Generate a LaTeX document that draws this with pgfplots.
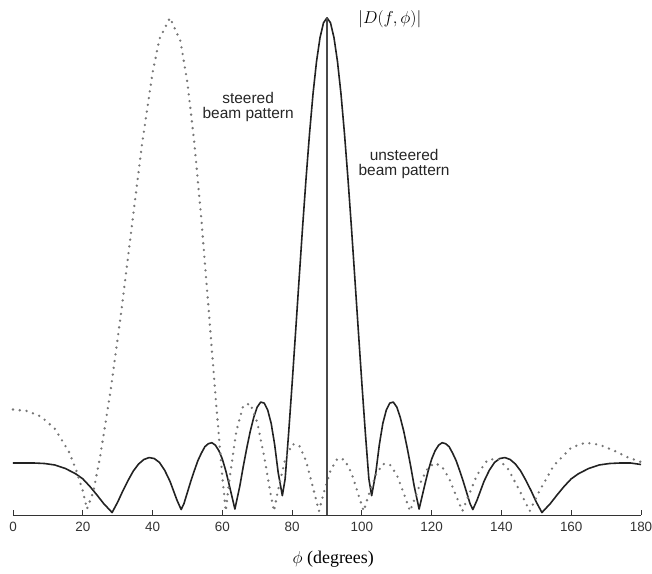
\documentclass[border=0pt]{standalone}
\usepackage{fontspec}
\setmainfont{Liberation Serif}
\newfontfamily\arial{Liberation Sans}
\usepackage{pgfplots}
\pgfplotsset{compat=1.18}

\definecolor{solidc}{HTML}{222222}
\definecolor{dotc}{HTML}{767676}
\definecolor{vlinec}{HTML}{4A4A4A}

\begin{document}
\begin{tikzpicture}
\begin{axis}[
    scale only axis,
    width=628bp, height=515bp,
    xmin=0, xmax=180, ymin=-0.004, ymax=1.036,
    axis x line*=bottom,
    axis y line=none,
    clip=false,
    xtick={0,20,...,180},
    ytick=\empty,
    tick align=inside,
    major tick length=5bp,
    every tick/.style={draw=black!80, line width=0.9bp},
    x axis line style={draw=black!80, line width=1bp},
    tick label style={font=\fontsize{13.5}{14}\selectfont\arial, text=black!80},
    xticklabel style={yshift=-4bp},
    /pgf/number format/assume math mode=true,
    xlabel={\fontsize{18}{18}\selectfont $\phi$ (degrees)},
    every axis x label/.style={at={(rel axis cs:0.51,0)}, anchor=center, yshift=-44bp},
]
% unsteered beam pattern
\addplot[solidc, line width=1.6bp, line join=round] coordinates {
(0,0.101)(3,0.101)(6,0.101)(9,0.100)(12,0.097)(15,0.090)(18,0.079)(20,0.069)
(22,0.054)(24,0.037)(26,0.019)(28.4,0.001)(30,0.022)(31.5,0.045)(33,0.066)(34.5,0.085)
(36,0.099)(37.5,0.108)(39,0.112)(40.5,0.110)(42,0.102)(43.5,0.086)(45,0.064)(47,0.026)
(48.2,0.007)(49,0.019)(50,0.042)(51,0.065)(52,0.086)(53,0.106)(54,0.121)(55,0.134)
(56,0.140)(57,0.142)(58,0.137)(59,0.126)(60,0.109)(61,0.085)(62,0.056)(63.6,0.008)
(65,0.054)(66,0.094)(67,0.131)(68,0.165)(69,0.193)(70,0.214)(71,0.224)(72,0.222)
(73,0.208)(74,0.181)(75,0.138)(76,0.082)(77.2,0.035)(78,0.069)(79,0.161)(80,0.261)
(81,0.366)(82,0.472)(83,0.577)(84,0.676)(85,0.767)(86,0.847)(87,0.912)(88,0.960)
(89,0.990)(90,1.000)
(91,0.990)(92,0.960)(93,0.912)(94,0.847)(95,0.767)(96,0.676)(97,0.577)(98,0.472)
(99,0.366)(100,0.261)(101,0.161)(102,0.069)(102.8,0.035)(104,0.082)(105,0.138)(106,0.181)
(107,0.208)(108,0.222)(109,0.224)(110,0.214)(111,0.193)(112,0.165)(113,0.131)(114,0.094)
(115,0.054)(116.4,0.008)(118,0.056)(119,0.085)(120,0.109)(121,0.126)(122,0.137)(123,0.142)
(124,0.140)(125,0.134)(126,0.121)(127,0.106)(128,0.086)(129,0.065)(130,0.042)(131,0.019)
(131.8,0.007)(133,0.026)(135,0.064)(136.5,0.086)(138,0.102)(139.5,0.110)(141,0.112)(142.5,0.108)
(144,0.099)(145.5,0.085)(147,0.066)(148.5,0.045)(150,0.022)(151.6,0.001)(154,0.019)(156,0.037)
(158,0.054)(160,0.069)(162,0.079)(165,0.090)(168,0.097)(171,0.100)(174,0.101)(177,0.101)
(180,0.098)
};
% steered beam pattern
\addplot[dotc, line width=2.6bp, line cap=round, dash pattern=on 0bp off 6.8bp] coordinates {
(0,0.209)(4,0.206)(8,0.195)(12,0.170)(16,0.124)(18,0.089)(20,0.045)(21.2,0.008)
(23,0.042)(25,0.115)(28,0.248)(31,0.405)(34,0.576)(37,0.746)(40,0.889)(42,0.958)
(45,1.000)(48,0.953)(50,0.869)(52,0.746)(54,0.592)(56,0.418)(58,0.240)(60,0.073)
(61,0.004)(62,0.066)(64,0.165)(66,0.217)(68,0.221)(70,0.183)(72,0.114)(74,0.032)
(74.8,0.004)(76,0.047)(78,0.108)(80,0.139)(82,0.137)(84,0.105)(86,0.051)(87.7,0.004)
(89,0.039)(91,0.086)(93,0.110)(95,0.108)(97,0.081)(99,0.037)(100.5,0.004)(102,0.038)
(104,0.077)(106,0.099)(108,0.098)(110,0.077)(112,0.040)(113.8,0.004)(115,0.026)(117,0.065)
(119,0.092)(121,0.101)(123,0.093)(125,0.070)(127,0.035)(128.8,0.004)(130,0.025)(133,0.077)
(136,0.107)(139,0.110)(142,0.088)(145,0.048)(148.1,0.004)(151,0.046)(155,0.096)(160,0.132)
(164,0.142)(168,0.138)(172,0.127)(176,0.113)(180,0.103)
};
% vertical line at broadside
\addplot[vlinec, line width=1.3bp] coordinates {(90,-0.004)(90,1.000)};

\node[font=\fontsize{19}{19}\selectfont] at (axis cs:108,0.998) {$|D(f,\phi)|$};
\node[font=\fontsize{15.5}{15.5}\selectfont\arial, align=center, text=black!85]
  at (axis cs:67.4,0.820) {steered\\beam pattern};
\node[font=\fontsize{15.5}{15.5}\selectfont\arial, align=center, text=black!85]
  at (axis cs:112.1,0.705) {unsteered\\beam pattern};

\coordinate (bl) at (rel axis cs:0,0);
\coordinate (tr) at (rel axis cs:1,1);
\end{axis}
\pgfresetboundingbox
\path[use as bounding box] ([shift={(-13bp,-59bp)}]bl) rectangle ([shift={(11bp,0bp)}]tr);
\end{tikzpicture}
\end{document}
